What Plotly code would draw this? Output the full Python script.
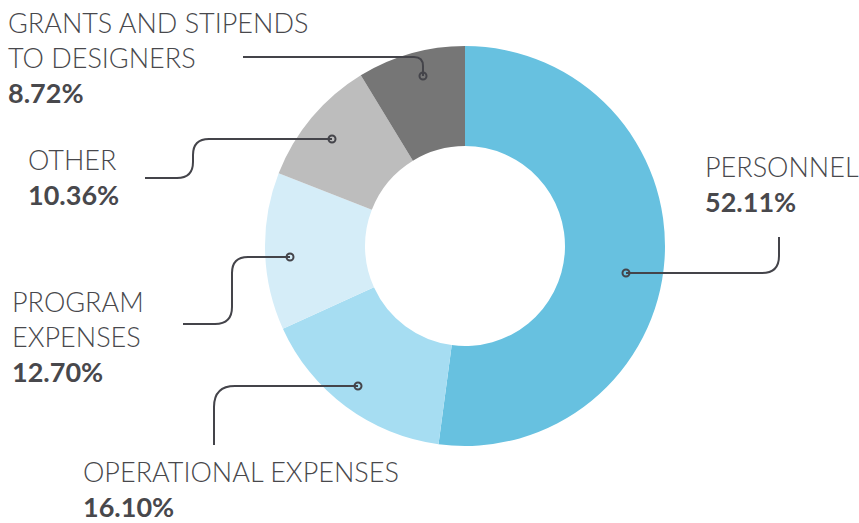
import plotly.graph_objects as go

categories = ["PERSONNEL", "OPERATIONAL EXPENSES", "PROGRAM EXPENSES", "OTHER", "GRANTS AND STIPENDS TO DESIGNERS"]
values = [52.11, 16.10, 12.70, 10.36, 8.72]
colors = ["#67c1e0", "#a6ddf2", "#d5edf8", "#bdbdbd", "#767676"]
label_lines = [["PERSONNEL"], ["OPERATIONAL EXPENSES"], ["PROGRAM", "EXPENSES"], ["OTHER"], ["GRANTS AND STIPENDS", "TO DESIGNERS"]]
pct_labels = [f"{v:.2f}%" for v in values]

W, H = 859, 523
def px(x): return x / W
def py(y): return 1 - y / H

fig = go.Figure(go.Pie(
    labels=categories, values=values, sort=False, direction="clockwise",
    rotation=0, hole=0.5, marker=dict(colors=colors, line=dict(width=0)),
    textinfo="none", hoverinfo="label+percent",
    domain=dict(x=[px(265), px(665)], y=[py(446), py(46)]),
))

LINE = "#44444a"
# leader line geometry (pixels): path points and dot
leaders = [
    ("M 626 273 L 762 273 Q 779 273 779 256 L 779 237", (626, 273)),
    ("M 358 386 L 235 386 Q 214 386 214 407 L 214 445", (358, 386)),
    ("M 183 324 L 215 324 Q 232 324 232 307 L 232 273 Q 232 257 248 257 L 290 257", (290, 257)),
    ("M 145 178 L 177 178 Q 193 178 193 162 L 193 155 Q 193 139 209 139 L 332 139", (332, 139)),
    ("M 243 57 L 414 57 Q 423 57 423 66 L 423 76", (423, 76)),
]

def conv(path):
    toks = path.split()
    out = []
    i = 0
    while i < len(toks):
        t = toks[i]
        if t in "MLQ":
            out.append(t); i += 1
        else:
            x = float(toks[i]); y = float(toks[i + 1])
            out.append(f"{px(x):.5f},{py(y):.5f}"); i += 2
    return " ".join(out)

shapes = []
for path, (dx, dy) in leaders:
    shapes.append(dict(type="path", xref="paper", yref="paper", path=conv(path),
                       line=dict(color=LINE, width=2)))
    r = 3.5
    shapes.append(dict(type="circle", xref="paper", yref="paper",
                       x0=px(dx - r), x1=px(dx + r), y0=py(dy + r), y1=py(dy - r),
                       line=dict(color=LINE, width=2), fillcolor="rgba(0,0,0,0)"))

# label placement (pixels): left x, vertical centre of the text block
label_pos = [(703, 184), (81, 489), (10, 336), (26, 177), (6, 57)]

FONT = "Lato"
annotations = []
for lines, pct, (lx, cy) in zip(label_lines, pct_labels, label_pos):
    text = "<br>".join(lines) + f"<br><b>{pct}</b>"
    annotations.append(dict(text=text, x=px(lx), y=py(cy), xref="paper", yref="paper",
                            xanchor="left", yanchor="middle", align="left", showarrow=False,
                            font=dict(family=FONT, size=27, color="#48484c", weight=300)))

fig.update_layout(width=W, height=H, margin=dict(l=0, r=0, t=0, b=0),
                  paper_bgcolor="white", plot_bgcolor="white", showlegend=False,
                  shapes=shapes, annotations=annotations)
fig.write_html("out.html")
